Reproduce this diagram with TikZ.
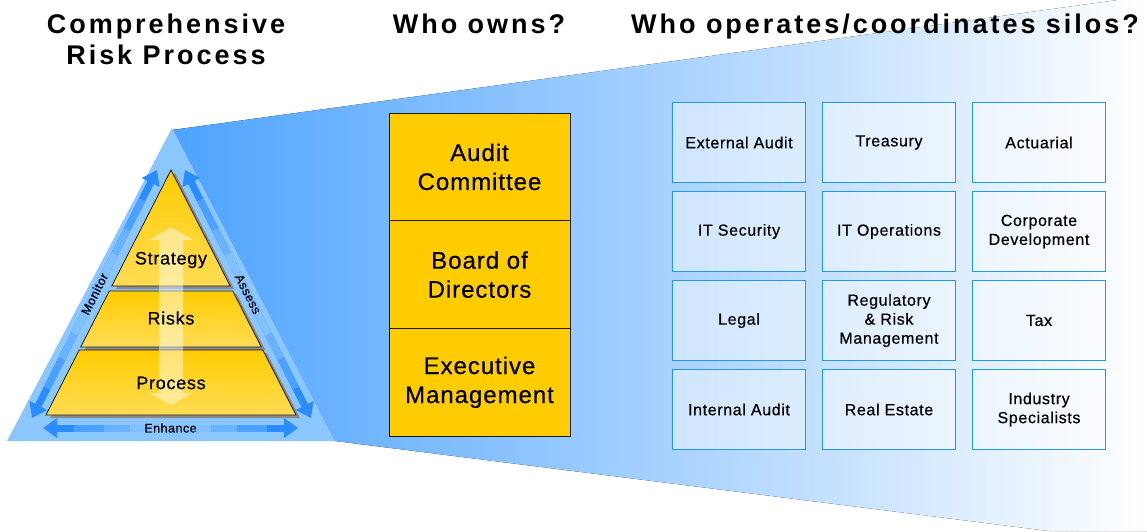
\documentclass[tikz,border=0pt]{standalone}
\usepackage{fontspec}
\setmainfont{Liberation Sans}
\newfontfamily\headfont[LetterSpace=11]{Liberation Sans}
\newfontfamily\boxfont[LetterSpace=4,FakeBold=0.5]{Liberation Sans}
\usetikzlibrary{arrows.meta,calc,positioning}
\definecolor{Ink}{HTML}{1A1A1A}
\definecolor{Gold}{HTML}{FFCC00}
\definecolor{GoldLight}{HTML}{FFDC55}
\definecolor{SkyDeep}{HTML}{4DA3FF}
\definecolor{SkyMid}{HTML}{B3D3FF}
\definecolor{SkyPale}{HTML}{8CC6FF}
\definecolor{ArrowBlue}{HTML}{2A8CFF}
\definecolor{SiloEdge}{HTML}{2398F0}
\definecolor{Shadow}{HTML}{8A8A8A}
\tikzset{
  title/.style={font=\headfont\bfseries\fontsize{27}{31}\selectfont, align=center, anchor=base},
  owner/.style={
    draw=Ink, line width=0.8pt, fill=Gold, outer sep=0pt, inner sep=0pt,
    minimum width=181pt, minimum height=107.7pt, align=center,
    font=\boxfont\fontsize{24}{29}\selectfont
  },
  silo/.style={
    draw=SiloEdge, line width=1.2pt, fill=white, fill opacity=0.45, text opacity=1,
    outer sep=0pt, inner sep=0pt, minimum width=133pt, minimum height=80pt,
    align=center, font=\boxfont\fontsize{16}{19}\selectfont
  },
  layer/.style={draw=Ink, line width=0.8pt, top color=Gold, bottom color=GoldLight},
  tier/.style={font=\boxfont\fontsize{18}{20}\selectfont},
  sidearrow/.style={{Triangle[width=19pt,length=14pt]}-{Triangle[width=19pt,length=14pt]},
    line width=7pt, draw=ArrowBlue},
  cyclelabel/.style={font=\boxfont\fontsize{12.5}{14}\selectfont, inner sep=1pt}
}

\begin{document}
\begin{tikzpicture}[x=1pt,y=-1pt]
  \useasboundingbox (0,0) rectangle (1147,531);

  % funnel behind everything
  \fill[left color=SkyDeep, middle color=SkyMid, right color=white]
    (172,130) -- (1118,0) -- (1147,0) -- (1147,531) -- (1049,531) -- (335,441) -- cycle;
  \fill[SkyPale] (172,128) -- (335,441) -- (7,441) -- cycle;

  % cycle arrows round the pyramid
  \coordinate (monL) at (32,418);
  \coordinate (monT) at (157,170);
  \coordinate (asT) at (185,170);
  \coordinate (asB) at (311,418);
  \coordinate (enL) at (43,428);
  \coordinate (enR) at (298,428);
  \draw[sidearrow] (monL) -- (monT);
  \draw[sidearrow] (asT) -- (asB);
  \draw[sidearrow] (enL) -- (enR);
  \foreach \a/\b in {monL/monT, asT/asB, enL/enR}
    \foreach \f/\t in {0.12/35, 0.24/65, 0.34/90}
      \draw[line width=7pt, SkyPale!\t!ArrowBlue] ($(\a)!\f!(\b)$) -- ($(\a)!1-\f!(\b)$);
  \path (monL) -- (monT) node[midway, sloped, cyclelabel] (monitor) {Monitor};
  \path (asT) -- (asB) node[midway, sloped, cyclelabel] (assess) {Assess};
  \path (enL) -- (enR) node[midway, cyclelabel] (enhance) {Enhance};

  % pyramid layers
  \begin{scope}[shift={(4,3)}]
    \fill[Shadow] (171,170) -- (230.2,286) -- (111.8,286) -- cycle;
    \fill[Shadow] (109.3,291) -- (232.7,291) -- (261.3,347) -- (80.7,347) -- cycle;
    \fill[Shadow] (79.2,350) -- (262.8,350) -- (296,415) -- (46,415) -- cycle;
  \end{scope}
  \draw[layer] (171,170) -- (230.2,286) -- (111.8,286) -- cycle;
  \draw[layer] (109.3,291) -- (232.7,291) -- (261.3,347) -- (80.7,347) -- cycle;
  \draw[layer] (79.2,350) -- (262.8,350) -- (296,415) -- (46,415) -- cycle;
  \fill[white, opacity=0.45] (171,227) -- (193,240) -- (183,240) -- (183,393) -- (193,393)
    -- (171,405) -- (149,393) -- (159,393) -- (159,240) -- (149,240) -- cycle;
  \node[tier] (strategy) at (171,260) {Strategy};
  \node[tier] (risks) at (171,318) {Risks};
  \node[tier] (process) at (171,383) {Process};

  % headings
  \node[title] (crp) at (166,64) {Comprehensive\\Risk Process};
  \node[title] (owns) at (479,33) {Who owns?};
  \node[title] (silos) at (885,33) {Who operates/coordinates silos?};

  % owners
  \node[owner] (audit) at (479.5,166.9) {Audit\\Committee};
  \node[owner, below=0pt of audit] (board) {Board of\\Directors};
  \node[owner, below=0pt of board] (exec) {Executive\\Management};

  % silos
  \node[silo] (extaudit) at (739,142.5) {External Audit};
  \node[silo, right=17pt of extaudit] (treasury) {Treasury};
  \node[silo, right=17pt of treasury] (actuarial) {Actuarial};
  \node[silo, below=9pt of extaudit] (itsec) {IT Security};
  \node[silo, right=17pt of itsec] (itops) {IT Operations};
  \node[silo, right=17pt of itops] (corpdev) {Corporate\\Development};
  \node[silo, below=9pt of itsec] (legal) {Legal};
  \node[silo, right=17pt of legal] (regrisk) {Regulatory\\\& Risk\\Management};
  \node[silo, right=17pt of regrisk] (tax) {Tax};
  \node[silo, below=9pt of legal] (intaudit) {Internal Audit};
  \node[silo, right=17pt of intaudit] (realestate) {Real Estate};
  \node[silo, right=17pt of realestate] (industry) {Industry\\Specialists};
\end{tikzpicture}
\end{document}
